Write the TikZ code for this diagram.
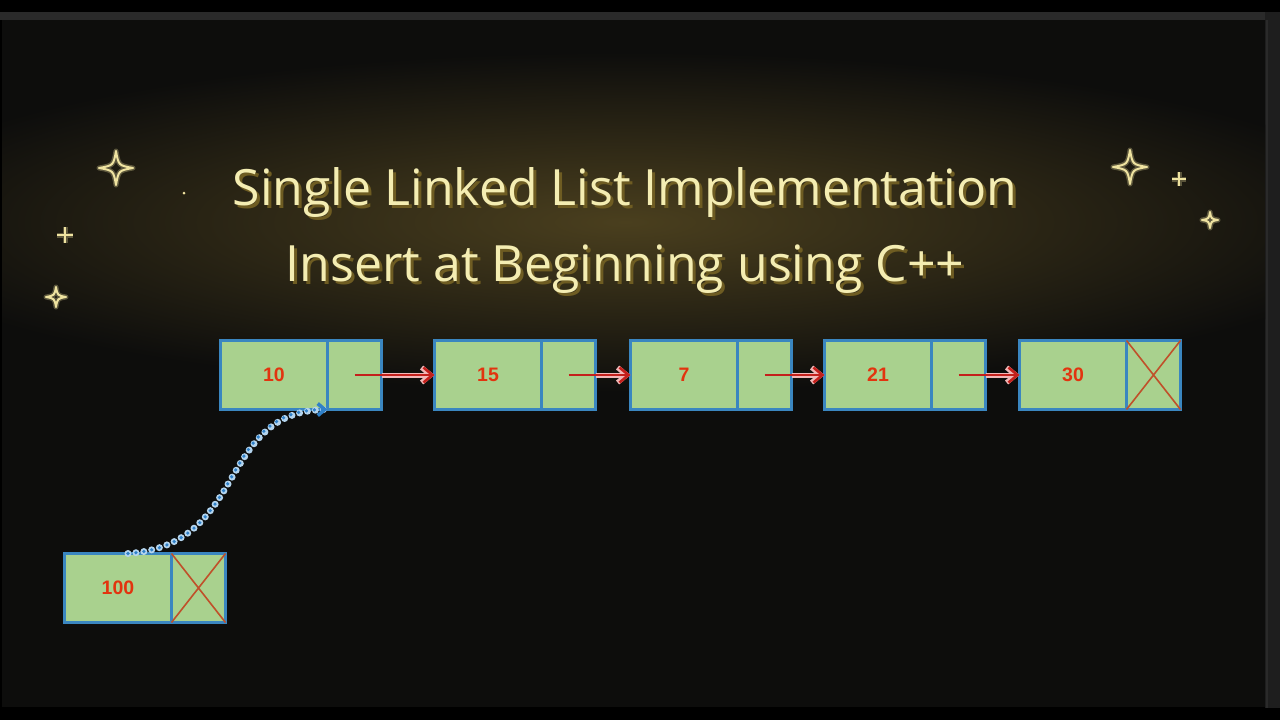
\documentclass[tikz,border=0pt]{standalone}
\usepackage{fontspec}
\setmainfont{Liberation Sans}
\newfontfamily\titlefont{Open Sans}
\usetikzlibrary{positioning,calc,arrows.meta}
\definecolor{panelbg}{HTML}{0D0D0C}
\definecolor{framegray}{HTML}{2A2A2A}
\definecolor{edgegray}{HTML}{1E1E1E}
\definecolor{glowgold}{HTML}{4A3F1E}
\definecolor{titleyellow}{HTML}{F4EDB2}
\definecolor{titleshadow}{HTML}{6E5C22}
\definecolor{cellgreen}{HTML}{A9D18E}
\definecolor{cellblue}{HTML}{3A86C0}
\definecolor{numred}{HTML}{E2340F}
\definecolor{ptrred}{HTML}{C4201C}
\definecolor{ptrpink}{HTML}{F2B8B8}
\definecolor{crossred}{HTML}{C0502A}
\definecolor{dotblue}{HTML}{2F80C8}
\definecolor{dotlight}{HTML}{B4D4EE}
\definecolor{sparkyellow}{HTML}{EFE3A0}

\tikzset{
  cell/.style={draw=cellblue,fill=cellgreen,line width=2.4pt,inner sep=0pt,outer sep=0pt,minimum height=69pt},
  datapart/.style={cell,minimum width=107pt,font=\bfseries\fontsize{19.5}{22}\selectfont,text=numred},
  nextpart/.style={cell,minimum width=54pt},
  ptrhalo/.style={draw=ptrpink,line width=5pt,-{Straight Barb[length=9pt,width=15pt]}},
  ptr/.style={draw=ptrred,line width=2.6pt,-{Straight Barb[length=9pt,width=15pt]}},
  nullcross/.style={draw=crossred,line width=1.6pt},
  linkhalo/.style={draw=dotlight,line width=7pt,line cap=round,dash pattern=on 0pt off 8pt},
  linkdots/.style={draw=dotblue,line width=3.6pt,line cap=round,dash pattern=on 0pt off 8pt,-{Straight Barb[length=7pt,width=12pt]}},
  title/.style={font=\titlefont\fontsize{50}{60}\selectfont,text=titleyellow,anchor=base,inner sep=0pt},
  sparkglow/.style={draw=sparkyellow,opacity=0.3,line width=5pt,line join=round},
  spark/.style={draw=sparkyellow,line width=2pt,line join=round}
}

% title text with its drop shadow
\newcommand{\shadowtext}[1]{%
  \makebox[0pt][l]{\hspace{3pt}\raisebox{-3pt}{\color{titleshadow}#1}}#1}
% four-pointed sparkle: x, y, radius
\newcommand{\drawsparkle}[3]{%
  \begin{scope}[shift={(#1,#2)},scale=#3]
    \foreach \s in {sparkglow,spark}
    \draw[\s] (0,-1) .. controls (0.15,-0.15) .. (1,0) .. controls (0.15,0.15) .. (0,1)
      .. controls (-0.15,0.15) .. (-1,0) .. controls (-0.15,-0.15) .. (0,-1) -- cycle;
  \end{scope}}
% small plus: x, y, radius
\newcommand{\drawplus}[3]{%
  \begin{scope}[shift={(#1,#2)},scale=#3]
    \foreach \s in {sparkglow,spark}
    \draw[\s] (-1,0) -- (1,0) (0,-1) -- (0,1);
  \end{scope}}

\begin{document}
\begin{tikzpicture}[x=1pt,y=-1pt]
        \useasboundingbox (0,0) rectangle (1280,720);
        % draw frame and panel
        \fill[black] (0,0) rectangle (1280,720);
        \fill[framegray] (0,12) rectangle (1280,20);
        \fill[edgegray] (1265,12) rectangle (1280,708);
        \draw[framegray,line width=1.5pt] (1267,20) -- (1267,708);
        \fill[panelbg] (2,20) rectangle (1265,707);
        % draw glow behind title
        \begin{scope}
        \clip (2,20) rectangle (1265,707);
        \shade[inner color=glowgold,outer color=panelbg] (625,222) ellipse (780 and 170);
        \end{scope}
        % draw sparkles
        \drawsparkle{116}{168}{17}
        \drawplus{65}{235}{8}
        \drawsparkle{56}{297}{10}
        \fill[sparkyellow] (184,193) circle (1.5);
        \drawsparkle{1130}{167}{17}
        \drawplus{1179}{179}{7}
        \drawsparkle{1210}{220}{8}
        % draw title
        \node[title] (line1) at (625,205) {\shadowtext{Single Linked List Implementation}};
        \node[title] (line2) at (625,281) {\shadowtext{Insert at Beginning using C++}};
        % draw list nodes
        \foreach \x/\v/\i in {274/10/1,488/15/2,684/7/3,878/21/4,1073/30/5,118/100/0}
        {
        \ifnum\i=0
          \node[datapart] (d\i) at (\x,588) {\v};
        \else
          \node[datapart] (d\i) at (\x,375) {\v};
        \fi
        \node[nextpart,right=0pt of d\i] (n\i) {};
        }
        % draw pointers
        \foreach \i/\j in {1/2,2/3,3/4,4/5}
        {
        \draw[ptrhalo] (n\i.east) -- (d\j.west);
        \draw[ptr] (n\i.center) -- (d\j.west);
        }
        % draw null crosses
        \foreach \i in {5,0}
        \draw[nullcross] (n\i.north west) -- (n\i.south east) (n\i.north east) -- (n\i.south west);
        % draw new head link
        \draw[linkhalo] ([xshift=10pt]d0.north) .. controls (250,545) and (215,410) .. (n1.south west);
        \draw[linkdots] ([xshift=10pt]d0.north) .. controls (250,545) and (215,410) .. (n1.south west);
\end{tikzpicture}
\end{document}
